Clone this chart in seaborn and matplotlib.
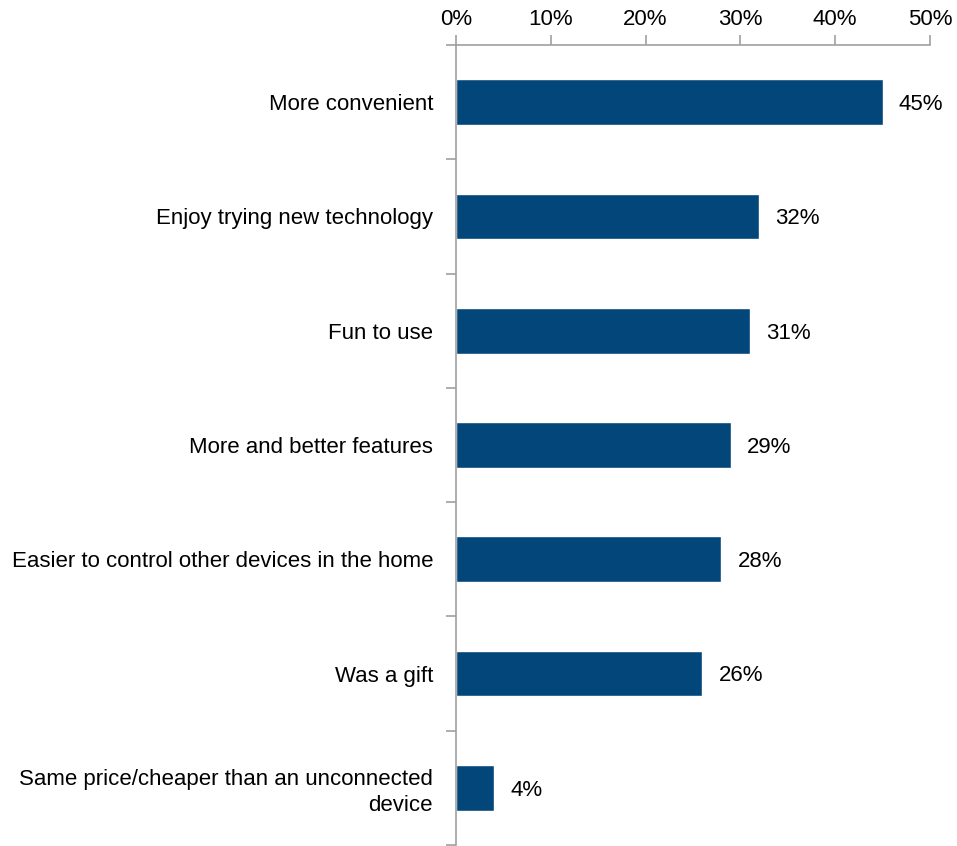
import matplotlib
matplotlib.use("Agg")
import matplotlib.pyplot as plt
import seaborn as sns
import pandas as pd
from matplotlib.ticker import FixedLocator

categories = [
    "More convenient",
    "Enjoy trying new technology",
    "Fun to use",
    "More and better features",
    "Easier to control other devices in the home",
    "Was a gift",
    "Same price/cheaper than an unconnected\ndevice",
]
values = [45, 32, 31, 29, 28, 26, 4]
xticks = [0, 10, 20, 30, 40, 50]
xtick_labels = ["0%", "10%", "20%", "30%", "40%", "50%"]

sns.set_style("white")
plt.rcParams['font.family'] = ['Liberation Sans', 'DejaVu Sans']
plt.rcParams['text.color'] = 'black'
plt.rcParams['xtick.color'] = 'black'
plt.rcParams['ytick.color'] = 'black'

df = pd.DataFrame({"cat": categories, "val": values})

fig = plt.figure(figsize=(9.57, 8.46), dpi=100)
ax = fig.add_axes([456/957, 1 - 845/846, (930-456)/957, (845-45)/846])

sns.barplot(data=df, x="val", y="cat", orient="h", color="#03467A",
            width=0.4, saturation=1, ax=ax)

fs = 16
ax.set_xlim(0, 50)
ax.set_ylim(len(categories) - 0.5, -0.5)
ax.xaxis.tick_top()
ax.set_xticks(xticks)
ax.set_xticklabels(xtick_labels, fontsize=16, color="black")
ax.set_xlabel("")
ax.set_ylabel("")

for s in ["right", "bottom"]:
    ax.spines[s].set_visible(False)
for s in ["top", "left"]:
    ax.spines[s].set_color("#A0A0A0")
    ax.spines[s].set_linewidth(1.2)

ax.tick_params(axis="x", which="major", top=True, direction="out", length=7,
               color="#A0A0A0", width=1.2, pad=4, labelcolor="black")
ax.set_yticks(range(len(categories)))
ax.set_yticklabels(categories, fontsize=fs, ha="right", color="black", linespacing=1.3)
ax.tick_params(axis="y", which="major", length=0, pad=16.5)
ax.yaxis.set_minor_locator(FixedLocator([i - 0.5 for i in range(len(categories) + 1)]))
ax.tick_params(axis="y", which="minor", left=True, length=7, color="#A0A0A0", width=1.2)

for i, v in enumerate(values):
    ax.text(v + 1.7, i + 0.02, f"{v}%", va="center", ha="left", fontsize=fs, color="black")

fig.savefig("out.png", dpi=100)
